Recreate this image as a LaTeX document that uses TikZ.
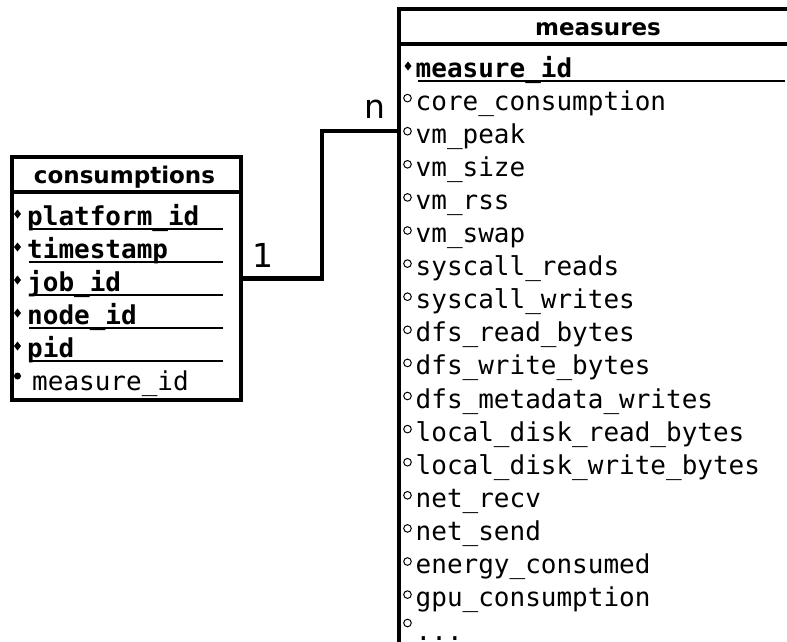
\documentclass[tikz,border=0pt]{standalone}
\usepackage{fontspec}
\setmainfont{DejaVu Sans}
\setmonofont{DejaVu Sans Mono}

\begin{document}
\begin{tikzpicture}[x=1pt, y=-1pt,
    tbl/.style={draw, line width=4pt, inner sep=0pt, anchor=north west},
    sepline/.style={line width=4pt},
    keyline/.style={line width=1.6pt},
    link/.style={line width=4.5pt},
    title/.style={font=\fontsize{23}{28}\selectfont\bfseries, anchor=base, inner sep=0pt},
    field/.style={font=\fontsize{26}{30}\selectfont\ttfamily, anchor=base west, inner sep=0pt},
    keyfield/.style={field, font=\fontsize{26}{30}\selectfont\ttfamily\bfseries},
    card/.style={font=\fontsize{33}{40}\selectfont, inner sep=0pt}]

    \clip (0,0) rectangle (787,641);

    % consumptions
    \node[tbl, minimum width=229pt, minimum height=243pt] (cons) at (10,155) {};
    \draw[sepline] (10,192) -- (239,192);
    \node[title] (consTitle) at (124.5,183) {consumptions};
    \foreach \fname [count=\i from 0] in {platform\_id, timestamp, job\_id, node\_id, pid} {
        \node[keyfield] (cons-key\i) at (27,225+33*\i) {\fname};
        \fill (17.5,209.5+33*\i) -- ++(3.5,4.5) -- ++(-3.5,4.5) -- ++(-3.5,-4.5) -- cycle;
        \draw[keyline] (29,229+33*\i) -- (223,229+33*\i);
    }
    \node[field] (cons-fk) at (32,390) {measure\_id};
    \fill (17.5,376) circle (3.5pt);

    % measures
    \node[tbl, minimum width=402pt, minimum height=700pt] (meas) at (397,7) {};
    \draw[sepline] (397,44) -- (799,44);
    \node[title] (measTitle) at (598,35) {measures};
    \node[keyfield] (meas-key) at (415.5,77) {measure\_id};
    \fill (408,61.5) -- ++(3.5,4.5) -- ++(-3.5,4.5) -- ++(-3.5,-4.5) -- cycle;
    \draw[keyline] (418,81) -- (785,81);
    \foreach \fname [count=\i] in {core\_consumption, vm\_peak, vm\_size, vm\_rss, vm\_swap,
        syscall\_reads, syscall\_writes, dfs\_read\_bytes, dfs\_write\_bytes,
        dfs\_metadata\_writes, local\_disk\_read\_bytes, local\_disk\_write\_bytes,
        net\_recv, net\_send, energy\_consumed, gpu\_consumption} {
        \node[field] (meas-f\i) at (415.5,77+33.1*\i) {\fname};
        \draw[line width=1pt] (407.5,65+33.1*\i) circle (3.8pt);
    }
    \node[field] (meas-more) at (415.5,640) {...};
    \draw[line width=1pt] (407.5,623) circle (3.8pt);

    % relation
    \draw[link] (cons.east) -- ++(79,0) |- ([yshift=-124pt]meas.north west);
    \node[card, anchor=base west] (one) at (252,267) {1};
    \node[card, anchor=base east] (many) at (386,118) {n};
\end{tikzpicture}
\end{document}
